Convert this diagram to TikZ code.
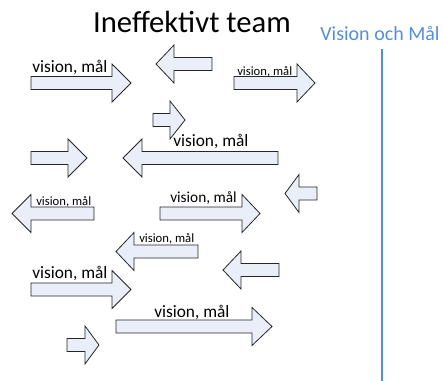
\documentclass[tikz,border=0pt]{standalone}
\usepackage{fontspec}
\setmainfont{Carlito}
\usetikzlibrary{positioning}

\definecolor{pilfyll}{RGB}{233,238,248}
\definecolor{malblå}{RGB}{84,141,221}

\tikzset{
  pil/.style={draw=black!85, fill=pilfyll, line width=0.6pt, line join=miter},
  etikett/.style={inner sep=0pt, anchor=base west},
  stor/.style={etikett, font=\fontsize{13}{15}\selectfont},
  mellan/.style={etikett, font=\fontsize{11.5}{13}\selectfont},
  liten/.style={etikett, font=\fontsize{9.5}{11}\selectfont},
}

%% block arrow: tail x, head base x, tip x, centre y
\newcommand{\blockpil}[4]{%
  \filldraw[pil] (#1,#4-6.5) -- (#2,#4-6.5) -- (#2,#4-19) -- (#3,#4)
    -- (#2,#4+19) -- (#2,#4+6.5) -- (#1,#4+6.5) -- cycle;}

\begin{document}
\begin{tikzpicture}[x=0.75pt, y=-0.75pt]
  \useasboundingbox (0,0) rectangle (443,381);

  \node[inner sep=0pt, anchor=base, font=\fontsize{23}{26}\selectfont] (titel) at (192,33) {Ineffektivt team};
  \node[inner sep=0pt, anchor=base, text=malblå, font=\fontsize{15}{17}\selectfont] (vision) at (380,41) {Vision och Mål};

  %% the arrows, row by row
  \blockpil{31}{112}{131}{83}
  \blockpil{212}{174}{156}{64}
  \blockpil{234}{297}{315}{83}
  \blockpil{153}{170}{185}{120}
  \blockpil{31}{68}{87}{158}
  \blockpil{278}{142}{123}{158}
  \blockpil{317}{299}{285}{193.5}
  \blockpil{94}{31}{12}{213.5}
  \blockpil{160}{242}{260}{213.5}
  \blockpil{198}{134}{116}{251.5}
  \blockpil{279}{241}{223}{270}
  \blockpil{31}{112}{131}{289.5}
  \blockpil{116}{252}{272}{326.5}
  \blockpil{67}{85}{99}{345}

  %% labels on top of the arrows
  \node[stor]   (l1)  at (32,73)   {vision, mål};
  \node[liten]  (l3)  at (237,76)  {vision, mål};
  \node[stor]   (l6)  at (173,147) {vision, mål};
  \node[liten]  (l8)  at (36,206)  {vision, mål};
  \node[mellan] (l9)  at (170,203) {vision, mål};
  \node[liten]  (l10) at (139,243) {vision, mål};
  \node[stor]   (l12) at (32,279)  {vision, mål};
  \node[stor]   (l13) at (154,317) {vision, mål};

  %% line under the goal
  \coordinate (linjetopp) at (382,49);
  \coordinate (linjebotten) at (382,381);
  \draw[malblå, line width=1.5pt] (linjetopp) -- (linjebotten);
\end{tikzpicture}
\end{document}
